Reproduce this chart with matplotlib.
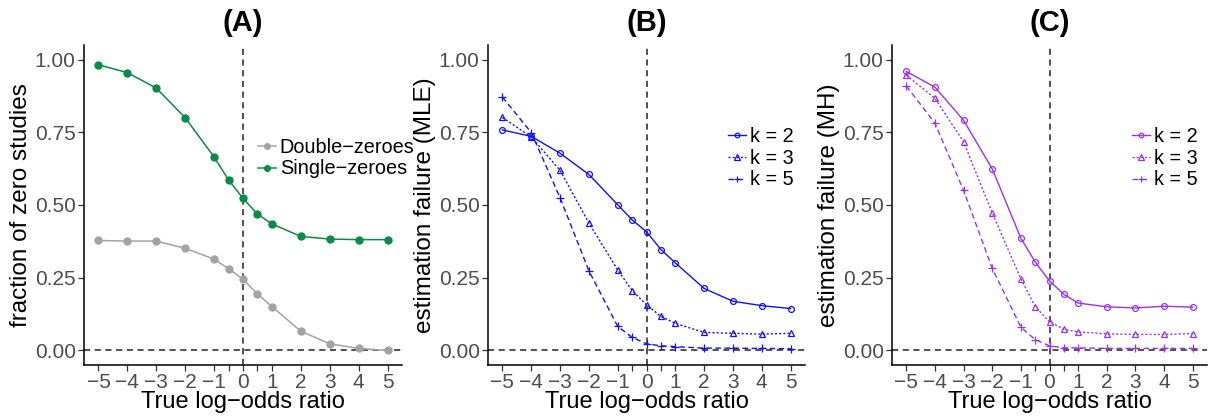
import matplotlib
matplotlib.use("Agg")
import matplotlib.pyplot as plt

plt.rcParams['font.family'] = ['Liberation Sans', 'DejaVu Sans']

x_vals = [-5, -4, -3, -2, -1, -0.5, 0, 0.5, 1, 2, 3, 4, 5]
x_labels = ['\u22125', '\u22124', '\u22123', '\u22122', '\u22121', '', '0', '', '1', '2', '3', '4', '5']

# Panel A
double_zeroes = [0.378, 0.376, 0.376, 0.351, 0.314, 0.281, 0.245, 0.194, 0.151, 0.066, 0.023, 0.007, 0.0]
single_zeroes = [0.982, 0.955, 0.902, 0.800, 0.665, 0.586, 0.523, 0.469, 0.435, 0.392, 0.383, 0.381, 0.381]

# Panel B (MLE)
mle_k2 = [0.758, 0.736, 0.678, 0.605, 0.501, 0.449, 0.408, 0.347, 0.301, 0.213, 0.169, 0.154, 0.144]
mle_k3 = [0.801, 0.734, 0.619, 0.438, 0.277, 0.206, 0.157, 0.117, 0.093, 0.062, 0.059, 0.056, 0.059]
mle_k5 = [0.871, 0.749, 0.525, 0.274, 0.083, 0.045, 0.023, 0.016, 0.013, 0.008, 0.008, 0.007, 0.006]

# Panel C (MH)
mh_k2 = [0.959, 0.905, 0.791, 0.624, 0.386, 0.304, 0.239, 0.193, 0.163, 0.150, 0.146, 0.152, 0.149]
mh_k3 = [0.946, 0.867, 0.717, 0.473, 0.246, 0.151, 0.098, 0.073, 0.064, 0.057, 0.055, 0.055, 0.058]
mh_k5 = [0.909, 0.781, 0.550, 0.282, 0.080, 0.037, 0.016, 0.009, 0.009, 0.007, 0.007, 0.007, 0.007]

k_labels = ['k = 2', 'k = 3', 'k = 5']
y_ticks = [0.0, 0.25, 0.5, 0.75, 1.0]
y_ticklabels = ['0.00', '0.25', '0.50', '0.75', '1.00']

W, H = 1208, 416
fig = plt.figure(figsize=(W / 100, H / 100), dpi=100)

def px_axes(l, r, t, b):
    return fig.add_axes([l / W, (H - b) / H, (r - l) / W, (b - t) / H])

axA = px_axes(84, 402, 45, 365)
axB = px_axes(488, 805, 45, 365)
axC = px_axes(892, 1207, 45, 365)

def style(ax, title, ylabel):
    ax.set_xlim(-5.5, 5.5)
    ax.set_ylim(-0.05, 1.05)
    ax.axvline(0, color='#222222', ls=(0, (4, 3)), lw=1.1, zorder=1)
    ax.axhline(0, color='#222222', ls=(0, (4, 3)), lw=1.1, zorder=1, clip_on=False)
    ax.set_xticks(x_vals)
    ax.set_xticklabels(x_labels)
    ax.set_yticks(y_ticks)
    ax.set_yticklabels(y_ticklabels)
    for s in ['top', 'right']:
        ax.spines[s].set_visible(False)
    for s in ['left', 'bottom']:
        ax.spines[s].set_linewidth(1.1)
        ax.spines[s].set_color('black')
    ax.tick_params(axis='both', length=4, width=0.9, color='#333333',
                   labelsize=15, labelcolor='#4D4D4D', pad=2)
    ax.set_xlabel('True log\u2212odds ratio', fontsize=17, labelpad=-1)
    ax.set_ylabel(ylabel, fontsize=17.5, labelpad=2)
    ax.set_title(title, fontsize=21, fontweight='bold', pad=10)

style(axA, '(A)', 'fraction of zero studies')
style(axB, '(B)', 'estimation failure (MLE)')
style(axC, '(C)', 'estimation failure (MH)')

grey = '#A3A3A3'
green = '#0A8A45'
axA.plot(x_vals, double_zeroes, color=grey, lw=1.1, marker='o', ms=5, label='Double\u2212zeroes', zorder=3)
axA.plot(x_vals, single_zeroes, color=green, lw=1.1, marker='o', ms=5, label='Single\u2212zeroes', zorder=3)

def kplots(ax, series, color):
    styles = [('-', 'o', 4.2), ((0, (1.5, 1.5)), '^', 4.8), ((0, (4, 2.5)), '+', 6.0)]
    for vals, (ls, mk, ms), lab in zip(series, styles, k_labels):
        ax.plot(x_vals, vals, color=color, lw=1.0, ls=ls, marker=mk, ms=ms,
                mfc='none', mec=color, mew=0.9, label=lab, zorder=3)

blue = '#1010F5'
purple = '#9B30F0'
kplots(axB, [mle_k2, mle_k3, mle_k5], blue)
kplots(axC, [mh_k2, mh_k3, mh_k5], purple)

def leg(ax, anchor):
    lg = ax.legend(loc='center left', bbox_to_anchor=anchor, frameon=False, fontsize=14.3,
                   handlelength=0.9, handletextpad=0.2, labelspacing=0.15,
                   borderpad=0, borderaxespad=0, markerscale=0.8)
    return lg

leg(axA, ((258 - 84) / 318, (365 - 158) / 320))
leg(axB, ((728 - 488) / 317, (365 - 158) / 320))
leg(axC, ((1132 - 892) / 315, (365 - 158) / 320))

fig.savefig('out.png', dpi=100)
